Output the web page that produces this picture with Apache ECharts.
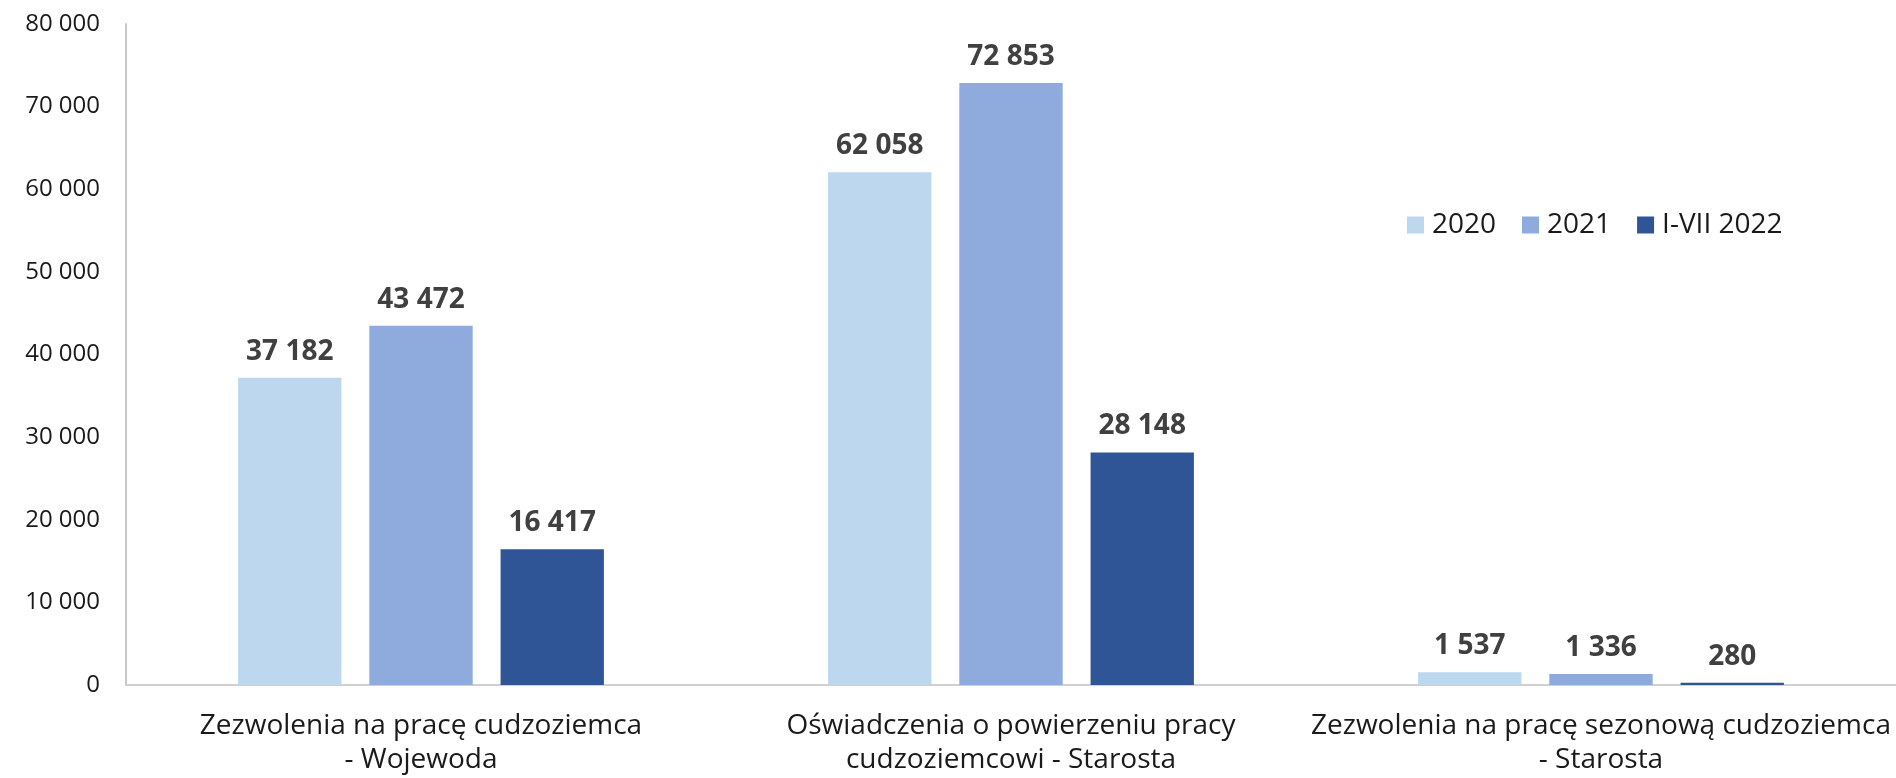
<!DOCTYPE html>
<html lang="pl">
<head>
    <meta charset="UTF-8">
    <title>Zezwolenia i oświadczenia</title>
    <script src="https://cdn.jsdelivr.net/npm/echarts@6/dist/echarts.min.js"></script>
    <style>
        html, body { margin: 0; padding: 0; background: #fff; }
        #main { width: 1896px; height: 778px; }
    </style>
</head>
<body>
    <div id="main"></div>
    <script>
        var categories = [
            'Zezwolenia na pracę cudzoziemca\n- Wojewoda',
            'Oświadczenia o powierzeniu pracy\ncudzoziemcowi - Starosta',
            'Zezwolenia na pracę sezonową cudzoziemca\n- Starosta'
        ];
        var seriesNames = ['2020', '2021', 'I-VII 2022'];
        var values2020 = [37182, 62058, 1537];
        var values2021 = [43472, 72853, 1336];
        var values2022 = [16417, 28148, 280];
        var colors = ['#BDD7EE', '#8FAADC', '#2F5597'];

        // liczby ze spacją jako separatorem tysięcy
        function fmt(v) {
            return String(v).replace(/\B(?=(\d{3})+(?!\d))/g, ' ');
        }

        var chart = echarts.init(document.getElementById('main'));

        function makeSeries(name, data, color) {
            return {
                name: name,
                type: 'bar',
                data: data,
                barGap: '27%',
                barCategoryGap: '38%',
                itemStyle: { color: color },
                label: {
                    show: true,
                    position: 'top',
                    distance: 12,
                    color: '#404040',
                    fontFamily: 'Open Sans',
                    fontWeight: 'bold',
                    fontSize: 28,
                    formatter: function (p) { return fmt(p.value); }
                }
            };
        }

        var option = {
            animation: false,
            color: colors,
            grid: { left: 126, right: 0, top: 24, bottom: 93 },
            legend: {
                data: seriesNames,
                left: 1402,
                top: 206,
                itemWidth: 17,
                itemHeight: 17,
                itemGap: 26,
                icon: 'rect',
                textStyle: {
                    fontFamily: 'Open Sans',
                    fontSize: 28,
                    color: '#1a1a1a',
                    padding: [0, 0, 0, 3]
                }
            },
            xAxis: {
                type: 'category',
                data: categories,
                axisLine: { lineStyle: { color: '#d0d0d0', width: 2 } },
                axisTick: { show: false },
                axisLabel: {
                    interval: 0,
                    fontFamily: 'Open Sans',
                    fontSize: 28,
                    color: '#1a1a1a',
                    lineHeight: 34,
                    margin: 24
                }
            },
            yAxis: {
                type: 'value',
                min: 0,
                max: 80000,
                interval: 10000,
                axisLine: { show: true, lineStyle: { color: '#c8c8c8', width: 2 } },
                axisTick: { show: false },
                splitLine: { show: false },
                axisLabel: {
                    fontFamily: 'Open Sans',
                    fontSize: 24,
                    color: '#1a1a1a',
                    margin: 26,
                    formatter: function (v) { return fmt(v); }
                }
            },
            series: [
                makeSeries(seriesNames[0], values2020, colors[0]),
                makeSeries(seriesNames[1], values2021, colors[1]),
                makeSeries(seriesNames[2], values2022, colors[2])
            ]
        };

        chart.setOption(option);
    </script>
</body>
</html>
